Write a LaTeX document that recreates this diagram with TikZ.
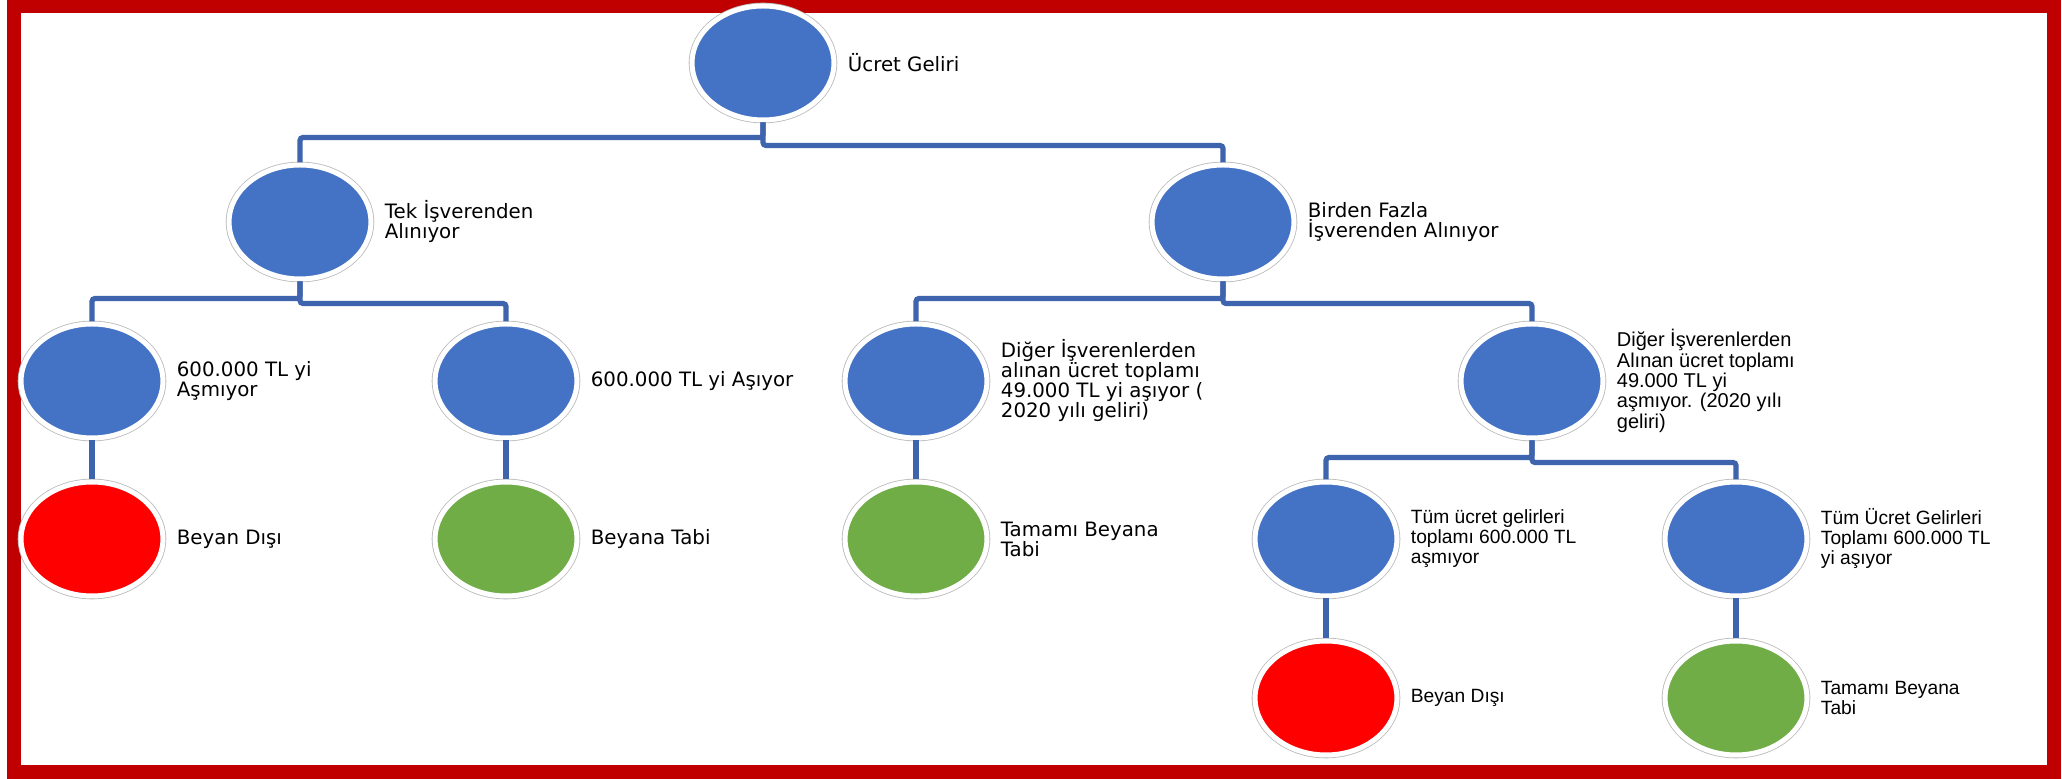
\documentclass[tikz,border=0pt]{standalone}
\usepackage{fontspec}
\setmainfont{DejaVu Sans}
\newfontfamily\narrowfont{Liberation Sans}
\usetikzlibrary{positioning}
\usepgflibrary{shapes.geometric}

\definecolor{nodeblue}{HTML}{4472C4}
\definecolor{nodegreen}{HTML}{70AD47}
\definecolor{nodered}{HTML}{FF0000}
\definecolor{linkblue}{HTML}{3F64AE}
\definecolor{framered}{HTML}{C00000}

\begin{document}
\begin{tikzpicture}[x=0.5pt, y=-0.5pt,
    circ/.style={ellipse, minimum width=71pt, minimum height=57pt, inner sep=0pt,
        draw=white, line width=2.5pt, fill=#1, preaction={draw=gray!55, line width=3.3pt}},
    circ/.default=nodeblue,
    lbl/.style={right=5.5pt of #1, inner sep=0pt, align=left,
        font=\fontsize{9.9pt}{10pt}\selectfont},
    nlbl/.style={lbl=#1, font=\narrowfont\fontsize{9.6pt}{10pt}\selectfont},
    conn/.style={draw=linkblue, line width=2.6pt, rounded corners=1.5pt}]

        \useasboundingbox (0,0) rectangle (2062,779);
        \fill[white] (0,0) rectangle (2062,779);
        \draw[framered, line width=7pt] (13.5,6.5) rectangle (2054,772);

        \node[circ] (root) at (763,63) {};
        \node[circ] (tek) at (300,222) {};
        \node[circ] (birden) at (1223,222) {};
        \node[circ] (asmiyor) at (92,381) {};
        \node[circ] (asiyor) at (506,381) {};
        \node[circ] (digerA) at (916,381) {};
        \node[circ] (digerB) at (1532,381) {};
        \node[circ=nodered] (beyandisiA) at (92,539) {};
        \node[circ=nodegreen] (beyanatabi) at (506,539) {};
        \node[circ=nodegreen] (tamamiA) at (916,539) {};
        \node[circ] (tumA) at (1326,539) {};
        \node[circ] (tumB) at (1736,539) {};
        \node[circ=nodered] (beyandisiB) at (1326,698) {};
        \node[circ=nodegreen] (tamamiB) at (1736,698) {};

        \node[lbl=root.east] (lroot) {Ücret Geliri};
        \node[lbl=tek.east] (ltek) {Tek İşverenden\\Alınıyor};
        \node[lbl=birden.east] (lbirden) {Birden Fazla\\İşverenden Alınıyor};
        \node[lbl=asmiyor.east] (lasmiyor) {600.000 TL yi\\Aşmıyor};
        \node[lbl=asiyor.east] (lasiyor) {600.000 TL yi Aşıyor};
        \node[lbl=digerA.east] (ldigerA) {Diğer İşverenlerden\\alınan ücret toplamı\\49.000 TL yi aşıyor (\\2020 yılı geliri)};
        \node[nlbl=digerB.east, font=\narrowfont\fontsize{10pt}{10.2pt}\selectfont] (ldigerB) {Diğer İşverenlerden\\Alınan ücret toplamı\\49.000 TL yi\\aşmıyor. (2020 yılı\\geliri)};
        \node[lbl=beyandisiA.east] (lbeyandisiA) {Beyan Dışı};
        \node[lbl=beyanatabi.east] (lbeyanatabi) {Beyana Tabi};
        \node[lbl=tamamiA.east] (ltamamiA) {Tamamı Beyana\\Tabi};
        \node[nlbl=tumA.east] (ltumA) {Tüm ücret gelirleri\\toplamı 600.000 TL\\aşmıyor};
        \node[nlbl=tumB.east] (ltumB) {Tüm Ücret Gelirleri\\Toplamı 600.000 TL\\yi aşıyor};
        \node[nlbl=beyandisiB.east] (lbeyandisiB) {Beyan Dışı};
        \node[nlbl=tamamiB.east] (ltamamiB) {Tamamı Beyana\\Tabi};

        \draw[conn] (root.south) -- ++(0,15) -| (tek.north);
        \draw[conn] (root.south) -- ++(0,23) -| (birden.north);
        \draw[conn] (tek.south) -- ++(0,17) -| (asmiyor.north);
        \draw[conn] (tek.south) -- ++(0,22) -| (asiyor.north);
        \draw[conn] (birden.south) -- ++(0,17) -| (digerA.north);
        \draw[conn] (birden.south) -- ++(0,22) -| (digerB.north);
        \draw[conn] (digerB.south) -- ++(0,17) -| (tumA.north);
        \draw[conn] (digerB.south) -- ++(0,22) -| (tumB.north);
        \draw[conn] (asmiyor) -- (beyandisiA);
        \draw[conn] (asiyor) -- (beyanatabi);
        \draw[conn] (digerA) -- (tamamiA);
        \draw[conn] (tumA) -- (beyandisiB);
        \draw[conn] (tumB) -- (tamamiB);

\end{tikzpicture}
\end{document}
